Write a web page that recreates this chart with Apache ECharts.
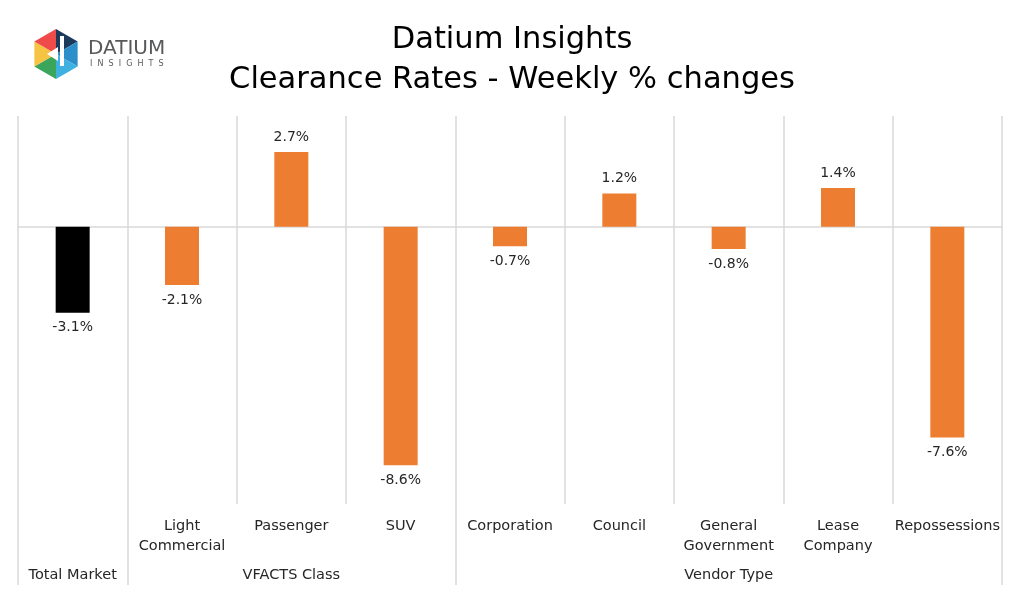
<!DOCTYPE html>
<html>
<head>
<meta charset="utf-8">
<script src="https://cdn.jsdelivr.net/npm/echarts@6/dist/echarts.min.js"></script>
<style>html,body{margin:0;padding:0;background:#fff}#c{width:1024px;height:595px}</style>
</head>
<body>
<div id="c"></div>
<script>
const categories = ['Total Market', 'Light\nCommercial', 'Passenger', 'SUV', 'Corporation', 'Council', 'General\nGovernment', 'Lease\nCompany', 'Repossessions'];
const tickLabels = ['', 'Light\nCommercial', 'Passenger', 'SUV', 'Corporation', 'Council', 'General\nGovernment', 'Lease\nCompany', 'Repossessions'];
const values = [-3.1, -2.1, 2.7, -8.6, -0.7, 1.2, -0.8, 1.4, -7.6];
const barColors = ['#000000', '#ED7D31', '#ED7D31', '#ED7D31', '#ED7D31', '#ED7D31', '#ED7D31', '#ED7D31', '#ED7D31'];
const groupNames = ['Total Market', 'VFACTS Class', 'Vendor Type'];
const groupBounds = [0, 1, 4, 9];
const groupCenters = [0.5, 2.5, 6.5];

const FONT = 'DejaVu Sans';
const GRID = '#D9D9D9';
const chart = echarts.init(document.getElementById('c'));

// logo hexagon pieces
const cx = 56, cy = 54, R = 25;
const hexColors = ['#1B3A5C', '#2C8FC9', '#3FB1E0', '#3BA55C', '#F6C343', '#EF4B4B'];
const logoParts = [];
for (let i = 0; i < 6; i++) {
  const a1 = (-90 + i * 60) * Math.PI / 180, a2 = (-90 + (i + 1) * 60) * Math.PI / 180;
  logoParts.push({
    type: 'polygon',
    shape: { points: [[cx, cy], [cx + R * Math.cos(a1), cy + R * Math.sin(a1)], [cx + R * Math.cos(a2), cy + R * Math.sin(a2)]] },
    style: { fill: hexColors[i] }
  });
}
logoParts.push({ type: 'polygon', shape: { points: [[cx - 9, cy], [cx + 2, cy - 7], [cx + 2, cy + 7]] }, style: { fill: '#fff' } });
logoParts.push({ type: 'rect', shape: { x: cx + 4, y: cy - 18, width: 4, height: 30 }, style: { fill: '#fff' } });
logoParts.push({ type: 'text', style: { text: 'DATIUM', x: 88, y: 39, font: '500 20px ' + FONT, fill: '#58595B' } });
logoParts.push({ type: 'text', style: { text: 'I  N  S  I  G  H  T  S', x: 90, y: 60, font: '8px ' + FONT, fill: '#58595B' } });

chart.setOption({
  animation: false,
  backgroundColor: '#fff',
  title: {
    text: 'Datium Insights\nClearance Rates - Weekly % changes',
    left: 'center', top: 15,
    textStyle: { fontFamily: FONT, fontWeight: 'normal', fontSize: 30.5, lineHeight: 40, color: '#000' }
  },
  graphic: logoParts,
  grid: { left: 18, right: 22, top: 116, bottom: 91 },
  xAxis: [
    {
      type: 'category', data: categories,
      axisLine: { show: true, onZero: true, lineStyle: { color: GRID, width: 1.5 } },
      axisTick: { show: false }, axisLabel: { show: false },
      splitLine: { show: true, lineStyle: { color: GRID, width: 1.5 } }
    },
    {
      type: 'category', data: categories, position: 'bottom',
      axisLine: { show: false }, axisTick: { show: false },
      axisLabel: {
        show: true, interval: 0, margin: 12, fontFamily: FONT, fontSize: 14.5, lineHeight: 20, color: '#262626', verticalAlign: 'top',
        formatter: (v, i) => tickLabels[i]
      }
    },
    {
      type: 'value', min: 0, max: 9, position: 'bottom',
      axisLine: { show: false },
      splitLine: { show: false },
      axisTick: { show: true, inside: false, length: 81, customValues: groupBounds, lineStyle: { color: GRID, width: 1.5 } },
      axisLabel: {
        show: true, customValues: groupCenters, margin: 64,
        fontFamily: FONT, fontSize: 14.5, color: '#262626',
        formatter: v => groupNames[groupCenters.indexOf(v)]
      }
    }
  ],
  yAxis: { type: 'value', min: -10, max: 4, show: false, splitLine: { show: false } },
  series: [{
    type: 'bar', xAxisIndex: 0, barWidth: 34,
    data: values.map((v, i) => ({
      value: v,
      itemStyle: { color: barColors[i] },
      label: { position: v < 0 ? 'bottom' : 'top' }
    })),
    label: {
      show: true, distance: 8, fontFamily: FONT, fontSize: 14, color: '#262626',
      formatter: p => p.value.toFixed(1) + '%'
    }
  }]
});
</script>
</body>
</html>
